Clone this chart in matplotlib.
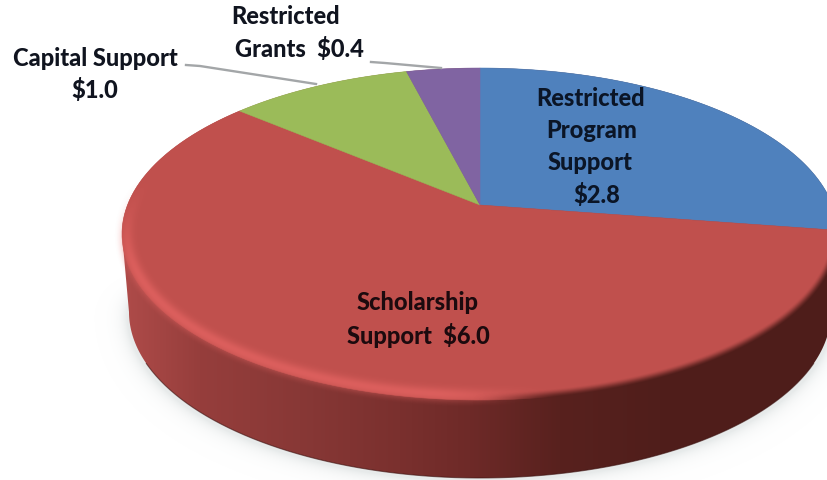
import numpy as np
import matplotlib
matplotlib.use("Agg")
import matplotlib.pyplot as plt
from matplotlib.patches import Polygon, PathPatch
from matplotlib.path import Path

# Funding by category, clockwise from twelve o'clock
categories = ["Restricted Program Support", "Scholarship Support", "Capital Support", "Restricted Grants"]
values = [2.8, 6.0, 1.0, 0.4]
colors = ["#4f81bd", "#c0504d", "#9bbb59", "#8064a2"]

W, H = 828, 480
# Perspective projection of the unit disc onto the tilted pie face
APEX_X, APEX_Y, SPREAD = 480.0, 205.0, 352.5
A, C = -125.1, 0.1747
# Outline ellipse of the face and of the base
CX, CY, RX, RY = 480.0, 234.0, 358.0, 166.0
BASE_CY, BASE_RX, BASE_RY = 312.0, 351.0, 166.0


def project(u, v):
    d = C * v + 1
    return APEX_X + SPREAD * u / d, (A * v + APEX_Y) / d


fig = plt.figure(figsize=(W / 100, H / 100), dpi=100, facecolor="white")
ax = fig.add_axes([0, 0, 1, 1])
ax.set_xlim(0, W)
ax.set_ylim(H, 0)
ax.axis("off")

xx, yy = np.meshgrid(np.arange(W) + 0.5, np.arange(H) + 0.5)
extent = (0, W, H, 0)


def signed_distance(cy, rx, ry):
    dx, dy = xx - CX, yy - cy
    f = np.sqrt((dx / rx) ** 2 + (dy / ry) ** 2) + 1e-9
    grad = np.sqrt((dx / rx ** 2) ** 2 + (dy / ry ** 2) ** 2) / f + 1e-9
    return (f - 1) / grad


def smooth(t):
    t = np.clip(t, 0, 1)
    return t * t * (3 - 2 * t)


def overlay(rgb, alpha, z, clip=None):
    img = np.dstack([rgb[..., 0], rgb[..., 1], rgb[..., 2], alpha])
    im = ax.imshow(img, extent=extent, origin="upper", zorder=z,
                   interpolation="bilinear", aspect="auto")
    if clip is not None:
        im.set_clip_path(clip)
    return im


# Soft drop shadow under the base
d_base = signed_distance(BASE_CY + 3, BASE_RX + 2, BASE_RY)
shadow_alpha = 0.42 * np.exp(-np.clip(d_base, 0, None) / 7.0) * (d_base > -6) * smooth((yy - 270) / 50)
shadow_rgb = np.dstack([np.full_like(xx, 0.78), np.full_like(xx, 0.81), np.full_like(xx, 0.81)])
overlay(shadow_rgb, shadow_alpha, 1)

# Horizontal shading of the rim wall
stops_x = [120, 200, 300, 400, 470, 560, 660, 840]
stops_r = [176, 150, 136, 122, 110, 88, 80, 78]
stops_g = [76, 62, 56, 48, 42, 33, 30, 29]
stops_b = [74, 60, 54, 46, 40, 30, 27, 26]
wall_rgb = np.dstack([np.interp(xx, stops_x, s) / 255 for s in (stops_r, stops_g, stops_b)])

t = np.linspace(0, np.pi, 200)
outline = np.vstack([
    np.column_stack([CX + BASE_RX * np.cos(t), BASE_CY + BASE_RY * np.sin(t)]),
    np.column_stack([CX - RX * np.cos(t), CY - RY * np.sin(t)]),
])
wall_patch = PathPatch(Path(np.vstack([outline, outline[0]]), closed=True),
                       transform=ax.transData, fc="none", ec="none")
ax.add_patch(wall_patch)
overlay(wall_rgb, np.ones_like(xx), 2, clip=wall_patch)
ax.plot(CX + BASE_RX * np.cos(t[20:180]), BASE_CY + BASE_RY * np.sin(t[20:180]),
        color="#3c1210", lw=0.8, alpha=0.6, zorder=2.5)

# Pie face: one projected sector per category
total = sum(values)
start = 0.0
for value, color in zip(values, colors):
    sweep = value / total * 2 * np.pi
    a = np.linspace(start, start + sweep, 120)
    xs, ys = project(np.sin(a), np.cos(a))
    poly = np.column_stack([np.r_[APEX_X, xs], np.r_[APEX_Y, ys]])
    ax.add_patch(Polygon(poly, closed=True, fc=color, ec=color, lw=0.4, zorder=3))
    start += sweep

# Bevel along the lower rim: highlight on the left, soft falloff on the right
d_face = signed_distance(CY, RX, RY)
bright = smooth((560 - xx) / 130) * smooth((yy - 170) / 110)
highlight = bright * np.exp(-((d_face + 5) / 6.5) ** 2) * 0.68
highlight *= smooth((10 - d_face) / 6) * (d_face > -22)
hi_rgb = np.dstack([np.full_like(xx, 232 / 255), np.full_like(xx, 102 / 255), np.full_like(xx, 100 / 255)])
overlay(hi_rgb, highlight, 4)

edge = smooth((d_face + 8) / 9) * smooth((xx - 470) / 90) * (yy > 225) * (d_face < 12)
overlay(wall_rgb, edge, 4)

# Labels
TEXT = dict(family="Lato", fontweight="black", ha="center", va="center", fontsize=17.0, zorder=6)
dark = "#10141f"
for s, x, y in [("Restricted", 286, 17), ("Grants  $0.4", 299, 49),
                ("Capital Support", 95, 59), ("$1.0", 95, 90)]:
    ax.text(x, y, s, color=dark, **TEXT)
for s, x, y in [("Restricted", 591, 98), ("Program", 592, 130),
                ("Support", 590, 163), ("$2.8", 597, 195)]:
    ax.text(x, y, s, color="#0b1526", **TEXT)
for s, x, y in [("Scholarship", 418, 303), ("Support  $6.0", 418, 335)]:
    ax.text(x, y, s, color="#1c0a0e", **TEXT)

# Leader lines
lead = "#a3a6a8"
ax.plot([186, 200, 316], [65, 66, 84], color=lead, lw=1.7, zorder=5)
ax.plot([371, 385, 441], [62, 63, 68], color=lead, lw=1.7, zorder=5)

fig.savefig("out.png", dpi=100, facecolor="white")
